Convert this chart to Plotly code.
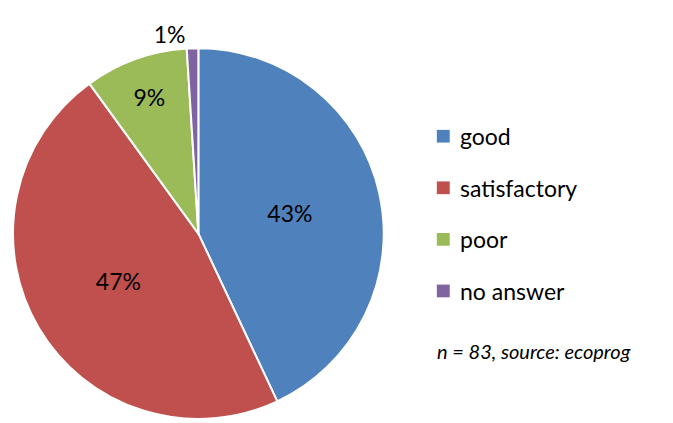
import plotly.graph_objects as go

labels = ["good", "satisfactory", "poor", "no answer"]
values = [43, 47, 9, 1]
colors = ["#4F81BD", "#C0504D", "#9BBB59", "#8064A2"]
note = "n = 83, source: ecoprog"

W, H = 673, 423
FONT = "Lato"
fig = go.Figure(go.Pie(
    labels=labels, values=values, sort=False, direction="clockwise", rotation=0,
    marker=dict(colors=colors, line=dict(color="white", width=2)),
    texttemplate="%{percent:.0%}", textposition=["inside", "inside", "inside", "outside"],
    insidetextorientation="horizontal",
    textfont=dict(size=23, color="black", family=FONT),
    showlegend=False,
    domain=dict(x=[0.0, 0.555], y=[0.0, 0.91]),
))

# legend drawn as squares + text
for i, (lab, col) in enumerate(zip(labels, colors)):
    yc = 1 - (131 + 52.7 * i) / H
    fig.add_shape(type="rect", xref="paper", yref="paper",
                  x0=427 / W, x1=440 / W, y0=yc - 6.5 / H, y1=yc + 6.5 / H,
                  fillcolor=col, line=dict(width=0))
    fig.add_annotation(xref="paper", yref="paper", x=448 / W, y=yc, text=lab,
                       showarrow=False, xanchor="left", yanchor="middle",
                       font=dict(size=23, color="black", family=FONT))
fig.add_annotation(xref="paper", yref="paper", x=425 / W, y=1 - 350 / H, text="<i>" + note + "</i>",
                   showarrow=False, xanchor="left", yanchor="middle",
                   font=dict(size=20, color="black", family=FONT))

fig.update_layout(width=W, height=H, margin=dict(l=0, r=0, t=0, b=0),
                  paper_bgcolor="white", plot_bgcolor="white")
fig.write_html("out.html")
